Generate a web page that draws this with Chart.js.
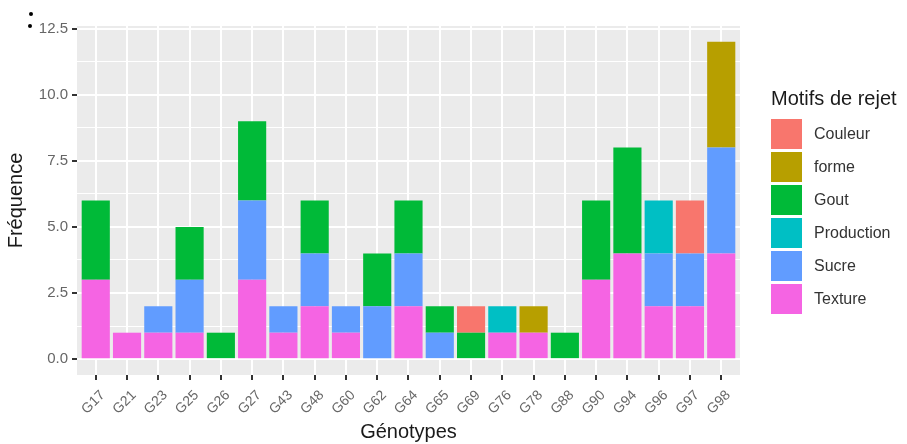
<!DOCTYPE html>
<html lang="fr">
<head>
<meta charset="UTF-8">
<title>Motifs de rejet par génotype</title>
<script src="https://cdn.jsdelivr.net/npm/chart.js"></script>
<style>
  body { margin: 0; background: #fff; font-family: "Liberation Sans", Arial, sans-serif; }
  .wrap { position: relative; width: 907px; height: 444px; }
  .legend { position: absolute; left: 771px; top: 87px; }
  .legend-title { font-size: 20px; color: #1a1a1a; height: 30px; }
  .legend-item { display: flex; align-items: center; height: 33px; font-size: 16px; color: #333; }
  .legend-item .key { width: 31px; height: 30px; margin-right: 12px; }
</style>
</head>
<body>
<div class="wrap">
  <canvas id="chart" width="907" height="444"></canvas>
  <div class="legend" id="legend"></div>
</div>
<script>
const genotypes = ['G17','G21','G23','G25','G26','G27','G43','G48','G60','G62','G64',
                   'G65','G69','G76','G78','G88','G90','G94','G96','G97','G98'];

// frequencies per rejection reason, one value per genotype
const texture    = [3,1,1,1,0,3,1,2,1,0,2,0,0,1,1,0,3,4,2,2,4];
const sucre      = [0,0,1,2,0,3,1,2,1,2,2,1,0,0,0,0,0,0,2,2,4];
const production = [0,0,0,0,0,0,0,0,0,0,0,0,0,1,0,0,0,0,2,0,0];
const gout       = [3,0,0,2,1,3,0,2,0,2,2,1,1,0,0,1,3,4,0,0,0];
const forme      = [0,0,0,0,0,0,0,0,0,0,0,0,0,0,1,0,0,0,0,0,4];
const couleur    = [0,0,0,0,0,0,0,0,0,0,0,0,1,0,0,0,0,0,0,2,0];

const motifs  = ['Couleur','forme','Gout','Production','Sucre','Texture'];
const colours = ['#F8766D','#B79F00','#00BA38','#00BFC4','#619CFF','#F564E3'];
const series  = [couleur, forme, gout, production, sucre, texture];

const yTicks = [0, 1.25, 2.5, 3.75, 5, 6.25, 7.5, 8.75, 10, 11.25, 12.5];

// bottom of the stack first (Texture), top last (Couleur)
const datasets = motifs.map((m, i) => ({
  label: m,
  data: series[i].map((v, j) => ({ x: j, y: v })),
  backgroundColor: colours[i],
  borderWidth: 0,
  barPercentage: 0.9,
  categoryPercentage: 1.0
})).reverse();

const panelBg = {
  id: 'panelBg',
  beforeDraw(chart) {
    const a = chart.chartArea, c = chart.ctx;
    c.save();
    c.fillStyle = '#EBEBEB';
    c.fillRect(a.left, a.top, a.right - a.left, a.bottom - a.top);
    c.fillStyle = '#000';
    c.beginPath(); c.arc(31, 14, 2, 0, Math.PI * 2); c.fill();
    c.beginPath(); c.arc(30, 26, 2, 0, Math.PI * 2); c.fill();
    c.restore();
  }
};

const isMajor = v => Math.abs(v / 2.5 - Math.round(v / 2.5)) < 1e-6;

new Chart(document.getElementById('chart'), {
  type: 'bar',
  data: { datasets: datasets },
  plugins: [panelBg],
  options: {
    responsive: false,
    animation: false,
    layout: { padding: { left: 4, right: 167, top: 26, bottom: 0 } },
    plugins: { legend: { display: false }, tooltip: { enabled: false } },
    scales: {
      x: {
        type: 'linear',
        stacked: true,
        offset: false,
        min: -0.6,
        max: 20.6,
        afterBuildTicks: s => { s.ticks = genotypes.map((g, i) => ({ value: i })); },
        afterFit: s => { s.height = 69; },
        border: { display: false },
        grid: { offset: false, color: '#FFFFFF', lineWidth: 2, tickColor: '#333', tickLength: 5 },
        ticks: {
          autoSkip: false,
          minRotation: 45,
          maxRotation: 45,
          padding: 7,
          labelOffset: 7,
          color: '#666',
          font: { family: 'Liberation Sans', size: 14 },
          callback: v => genotypes[v]
        },
        title: {
          display: true,
          text: 'Génotypes',
          color: '#1a1a1a',
          padding: 0,
          font: { family: 'Liberation Sans', size: 20 }
        }
      },
      y: {
        stacked: true,
        min: -0.6,
        max: 12.6,
        afterBuildTicks: s => { s.ticks = yTicks.map(v => ({ value: v })); },
        afterFit: s => { s.width = 73; },
        border: { display: false },
        grid: {
          color: '#FFFFFF',
          lineWidth: ctx => isMajor(ctx.tick.value) ? 2 : 1,
          tickColor: ctx => isMajor(ctx.tick.value) ? '#333' : 'rgba(0,0,0,0)',
          tickLength: 5
        },
        ticks: {
          padding: 4,
          color: '#666',
          font: { family: 'Liberation Sans', size: 15 },
          callback: v => isMajor(v) ? v.toFixed(1) : ''
        },
        title: {
          display: true,
          text: 'Fréquence',
          color: '#1a1a1a',
          padding: 0,
          font: { family: 'Liberation Sans', size: 20 }
        }
      }
    }
  }
});

const legend = document.getElementById('legend');
legend.innerHTML = '<div class="legend-title">Motifs de rejet</div>' +
  motifs.map((m, i) =>
    '<div class="legend-item"><span class="key" style="background:' + colours[i] + '"></span>' + m + '</div>'
  ).join('');
</script>
</body>
</html>
